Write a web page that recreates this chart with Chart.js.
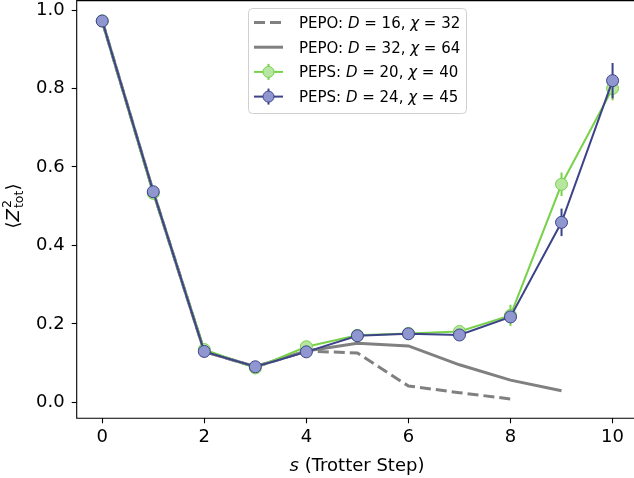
<!DOCTYPE html>
<html>
<head>
<meta charset="utf-8">
<script src="https://cdn.jsdelivr.net/npm/chart.js@4.4.1/dist/chart.umd.min.js"></script>
<style>
  html, body { margin: 0; padding: 0; background: #fff; overflow: hidden; }
  #wrap { width: 634px; height: 478px; }
</style>
</head>
<body>
<div id="wrap"><canvas id="chart" width="634" height="478"></canvas></div>
<script>
// data
const steps = [0, 1, 2, 3, 4, 5, 6, 7, 8, 9, 10];
const pepsD24 = [0.972, 0.537, 0.130, 0.091, 0.129, 0.170, 0.175, 0.172, 0.218, 0.459, 0.820];
const pepsD24Err = [0.003, 0.005, 0.005, 0.005, 0.006, 0.006, 0.006, 0.008, 0.012, 0.035, 0.045];
const pepsD20 = [0.972, 0.533, 0.135, 0.088, 0.142, 0.171, 0.176, 0.181, 0.222, 0.556, 0.800];
const pepsD20Err = [0.003, 0.005, 0.005, 0.005, 0.006, 0.006, 0.006, 0.008, 0.027, 0.030, 0.030];
const pepoD16 = [0.972, 0.537, 0.130, 0.091, 0.131, 0.126, 0.042, 0.025, 0.009];
const pepoD32 = [0.972, 0.537, 0.130, 0.091, 0.131, 0.151, 0.144, 0.096, 0.057, 0.030];
const xTicks = [0, 2, 4, 6, 8, 10];
const yTicks = [0.0, 0.2, 0.4, 0.6, 0.8, 1.0];

const GREEN = '#77d24a', GREEN_FILL = '#b6e6a0';
const BLUE = '#3d4389', BLUE_FILL = '#8f96d0';
const GREY = '#808080';
const FONT = '"DejaVu Sans", sans-serif';

function pts(ys) { return ys.map((y, i) => ({ x: steps[i], y: y })); }

const errs = { 2: pepsD20Err, 3: pepsD24Err };

// errorbars drawn just before each dataset's line
const errorBars = {
  id: 'errorBars',
  beforeDatasetDraw(chart, args) {
    const e = errs[args.index];
    if (!e) return;
    const ds = chart.data.datasets[args.index];
    const xs = chart.scales.x, ys = chart.scales.y, ctx = chart.ctx;
    ctx.save();
    ctx.strokeStyle = ds.borderColor;
    ctx.lineWidth = 2;
    ds.data.forEach((p, i) => {
      const px = xs.getPixelForValue(p.x);
      ctx.beginPath();
      ctx.moveTo(px, ys.getPixelForValue(p.y - e[i]));
      ctx.lineTo(px, ys.getPixelForValue(p.y + e[i]));
      ctx.stroke();
    });
    ctx.restore();
  }
};

// draw a run of [text, italic, size] pieces
function drawRuns(ctx, runs, x, y) {
  runs.forEach(r => {
    ctx.font = (r[1] ? 'italic ' : '') + r[2] + 'px ' + FONT;
    ctx.fillText(r[0], x, y);
    x += ctx.measureText(r[0]).width;
  });
  return x;
}
function runsWidth(ctx, runs) {
  let w = 0;
  runs.forEach(r => { ctx.font = (r[1] ? 'italic ' : '') + r[2] + 'px ' + FONT; w += ctx.measureText(r[0]).width; });
  return w;
}

const frameAndText = {
  id: 'frameAndText',
  afterDraw(chart) {
    const ctx = chart.ctx, a = chart.chartArea;
    ctx.save();
    // spines (right one is outside the picture)
    ctx.strokeStyle = '#000';
    ctx.lineWidth = 1.1;
    ctx.beginPath();
    ctx.moveTo(a.right, a.top + 0.6); ctx.lineTo(a.left, a.top + 0.6);
    ctx.lineTo(a.left, a.bottom); ctx.lineTo(a.right, a.bottom);
    ctx.stroke();

    ctx.fillStyle = '#000';
    ctx.textBaseline = 'alphabetic';
    // x title, centred on the full (uncropped) axes
    const xr = [['s', true, 18], [' (Trotter Step)', false, 18]];
    drawRuns(ctx, xr, 357 - runsWidth(ctx, xr) / 2, 471);

    // y title  <Z^2_tot>
    ctx.save();
    ctx.translate(19, 206);
    ctx.rotate(-Math.PI / 2);
    ctx.font = '18px ' + FONT;
    const wl = ctx.measureText('\u27E8').width;
    ctx.font = 'italic 18px ' + FONT;
    const wz = ctx.measureText('Z').width;
    ctx.font = '12.5px ' + FONT;
    const ws = Math.max(ctx.measureText('2').width, ctx.measureText('tot').width);
    const total = wl * 2 + wz + ws + 1;
    let x = -total / 2;
    ctx.font = '18px ' + FONT; ctx.fillText('\u27E8', x, 0); x += wl;
    ctx.font = 'italic 18px ' + FONT; ctx.fillText('Z', x, 0); x += wz + 1;
    ctx.font = '12.5px ' + FONT;
    ctx.fillText('2', x, -8);
    ctx.fillText('tot', x, 4);
    x += ws;
    ctx.font = '18px ' + FONT; ctx.fillText('\u27E9', x, 0);
    ctx.restore();

    // legend
    const bx = 248.5, by = 8.5, bw = 218, bh = 105;
    ctx.beginPath();
    ctx.roundRect(bx, by, bw, bh, 4);
    ctx.fillStyle = 'rgba(255,255,255,0.8)';
    ctx.fill();
    ctx.strokeStyle = '#d0d0d0';
    ctx.lineWidth = 1;
    ctx.stroke();

    const items = [
      { name: 'PEPO: ', D: '16', chi: '32', color: GREY, dash: [11, 5], lw: 3 },
      { name: 'PEPO: ', D: '32', chi: '64', color: GREY, dash: [], lw: 3 },
      { name: 'PEPS: ', D: '20', chi: '40', color: GREEN, fill: GREEN_FILL, dash: [], lw: 2 },
      { name: 'PEPS: ', D: '24', chi: '45', color: BLUE, fill: BLUE_FILL, dash: [], lw: 2 }
    ];
    items.forEach((it, i) => {
      const cy = 22.5 + i * 24.7;
      ctx.strokeStyle = it.color;
      ctx.lineWidth = it.lw;
      ctx.setLineDash(it.dash);
      ctx.beginPath();
      ctx.moveTo(254, cy); ctx.lineTo(283, cy);
      ctx.stroke();
      ctx.setLineDash([]);
      if (it.fill) {
        ctx.lineWidth = 2;
        ctx.beginPath();
        ctx.moveTo(268.5, cy - 8); ctx.lineTo(268.5, cy + 8);
        ctx.stroke();
        ctx.beginPath();
        ctx.arc(268.5, cy, 5.5, 0, Math.PI * 2);
        ctx.fillStyle = it.fill;
        ctx.fill();
        ctx.lineWidth = 1;
        ctx.stroke();
      }
      ctx.fillStyle = '#000';
      const runs = [[it.name, false, 15], ['D', true, 15], [' = ' + it.D + ', ', false, 15],
                    ['\u03C7', true, 15], [' = ' + it.chi, false, 15]];
      drawRuns(ctx, runs, 299, cy + 5.5);
    });
    ctx.restore();
  }
};

const data = {
  datasets: [
    {
      label: 'PEPO: D = 16, chi = 32',
      data: pts(pepoD16),
      borderColor: GREY,
      borderWidth: 3,
      borderDash: [11, 5],
      pointRadius: 0,
      order: 3
    },
    {
      label: 'PEPO: D = 32, chi = 64',
      data: pts(pepoD32),
      borderColor: GREY,
      borderWidth: 3,
      pointRadius: 0,
      order: 2
    },
    {
      label: 'PEPS: D = 20, chi = 40',
      data: pts(pepsD20),
      borderColor: GREEN,
      backgroundColor: GREEN_FILL,
      borderWidth: 2,
      pointRadius: 6,
      pointBorderWidth: 1,
      pointBorderColor: GREEN,
      pointBackgroundColor: GREEN_FILL,
      order: 1
    },
    {
      label: 'PEPS: D = 24, chi = 45',
      data: pts(pepsD24),
      borderColor: BLUE,
      backgroundColor: BLUE_FILL,
      borderWidth: 2,
      pointRadius: 6,
      pointBorderWidth: 1,
      pointBorderColor: BLUE,
      pointBackgroundColor: BLUE_FILL,
      order: 0
    }
  ]
};

const config = {
  type: 'line',
  data: data,
  options: {
    responsive: false,
    devicePixelRatio: 1,
    animation: false,
    events: [],
    layout: { autoPadding: false, padding: 0 },
    plugins: { legend: { display: false }, tooltip: { enabled: false } },
    scales: {
      x: {
        type: 'linear',
        bounds: 'data',
        min: -0.5,
        max: 10.42,
        afterFit(s) { s.height = 59.7; s.paddingLeft = 0; s.paddingRight = 0; },
        afterBuildTicks(s) { s.ticks = xTicks.map(v => ({ value: v })); },
        grid: { drawOnChartArea: false, tickLength: 5, tickColor: '#000', tickWidth: 1.1 },
        border: { display: false },
        ticks: { color: '#000', font: { family: FONT, size: 18 }, padding: 3, maxRotation: 0 }
      },
      y: {
        bounds: 'data',
        min: -0.0403,
        max: 1.0255,
        afterFit(s) { s.width = 76.7; s.paddingTop = 0; s.paddingBottom = 0; },
        afterBuildTicks(s) { s.ticks = yTicks.map(v => ({ value: v })); },
        grid: { drawOnChartArea: false, tickLength: 5, tickColor: '#000', tickWidth: 1.1 },
        border: { display: false },
        ticks: {
          color: '#000',
          font: { family: FONT, size: 18 },
          padding: 7,
          callback: v => v.toFixed(1)
        }
      }
    }
  },
  plugins: [errorBars, frameAndText]
};

const myChart = new Chart(document.getElementById('chart'), config);
</script>
</body>
</html>
